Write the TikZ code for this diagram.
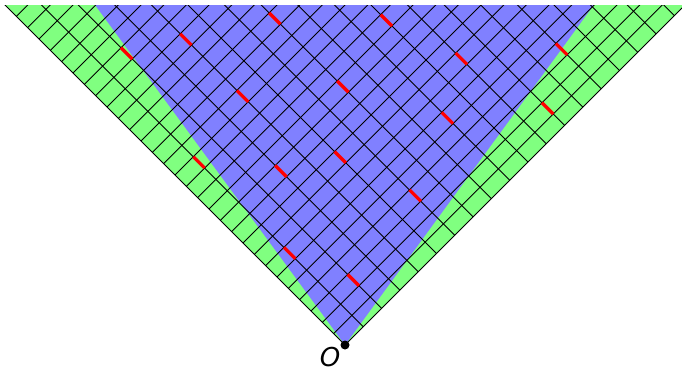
\documentclass[tikz,border=0pt]{standalone}
\usepackage{fontspec}
\newfontfamily\djv{DejaVu Sans}
\definecolor{lgreen}{RGB}{128,255,128}
\definecolor{lblue}{RGB}{128,128,255}
\begin{document}
\begin{tikzpicture}[x=1pt,y=-1pt,
  gridline/.style={black,line width=0.9pt},
  link/.style={red,line width=3.3pt},
  origin/.style={circle,fill=black,inner sep=0pt,minimum size=9pt},
  lbl/.style={font=\djv\itshape\fontsize{26}{28}\selectfont,inner sep=0pt}]
\useasboundingbox (0,0) rectangle (682,372);
\begin{scope}
  \clip (0,5) rectangle (682,372);
  % whole light cone (green)
  \fill[lgreen] (345,345) -- (-10,-10) -- (700,-10) -- cycle;
  % inner region (blue)
  \fill[lblue] (345,345) -- (84,-10) -- (604.7,-10) -- cycle;
  % grid lines parallel to the left edge
  \foreach \j in {0,...,18}{
    \draw[gridline] ({345+18.3*\j},{345-18.3*\j}) -- ({36.6*\j-10},-10);
  }
  % grid lines parallel to the right edge
  \foreach \k in {0,...,30}{
    \draw[gridline] ({345-11.3333*\k},{345-11.3333*\k}) -- ({700-22.6667*\k},-10);
  }
  % red links
  \foreach \j/\k in {2/22,4/20,7/17,10/12,4/15,7/11,9/5,11/7,14/3,12/1,1/14,3/10,5/8,6/3,1/6,2/2}{
    \draw[link] ({345+18.3*\j-11.3333*\k},{345-18.3*\j-11.3333*\k})
      -- ({345+18.3*\j-11.3333*(\k+1)},{345-18.3*\j-11.3333*(\k+1)});
  }
\end{scope}
\node[origin] (O) at (345,345) {};
\node[lbl] (Olabel) at (330,357.5) {O};
\end{tikzpicture}
\end{document}
